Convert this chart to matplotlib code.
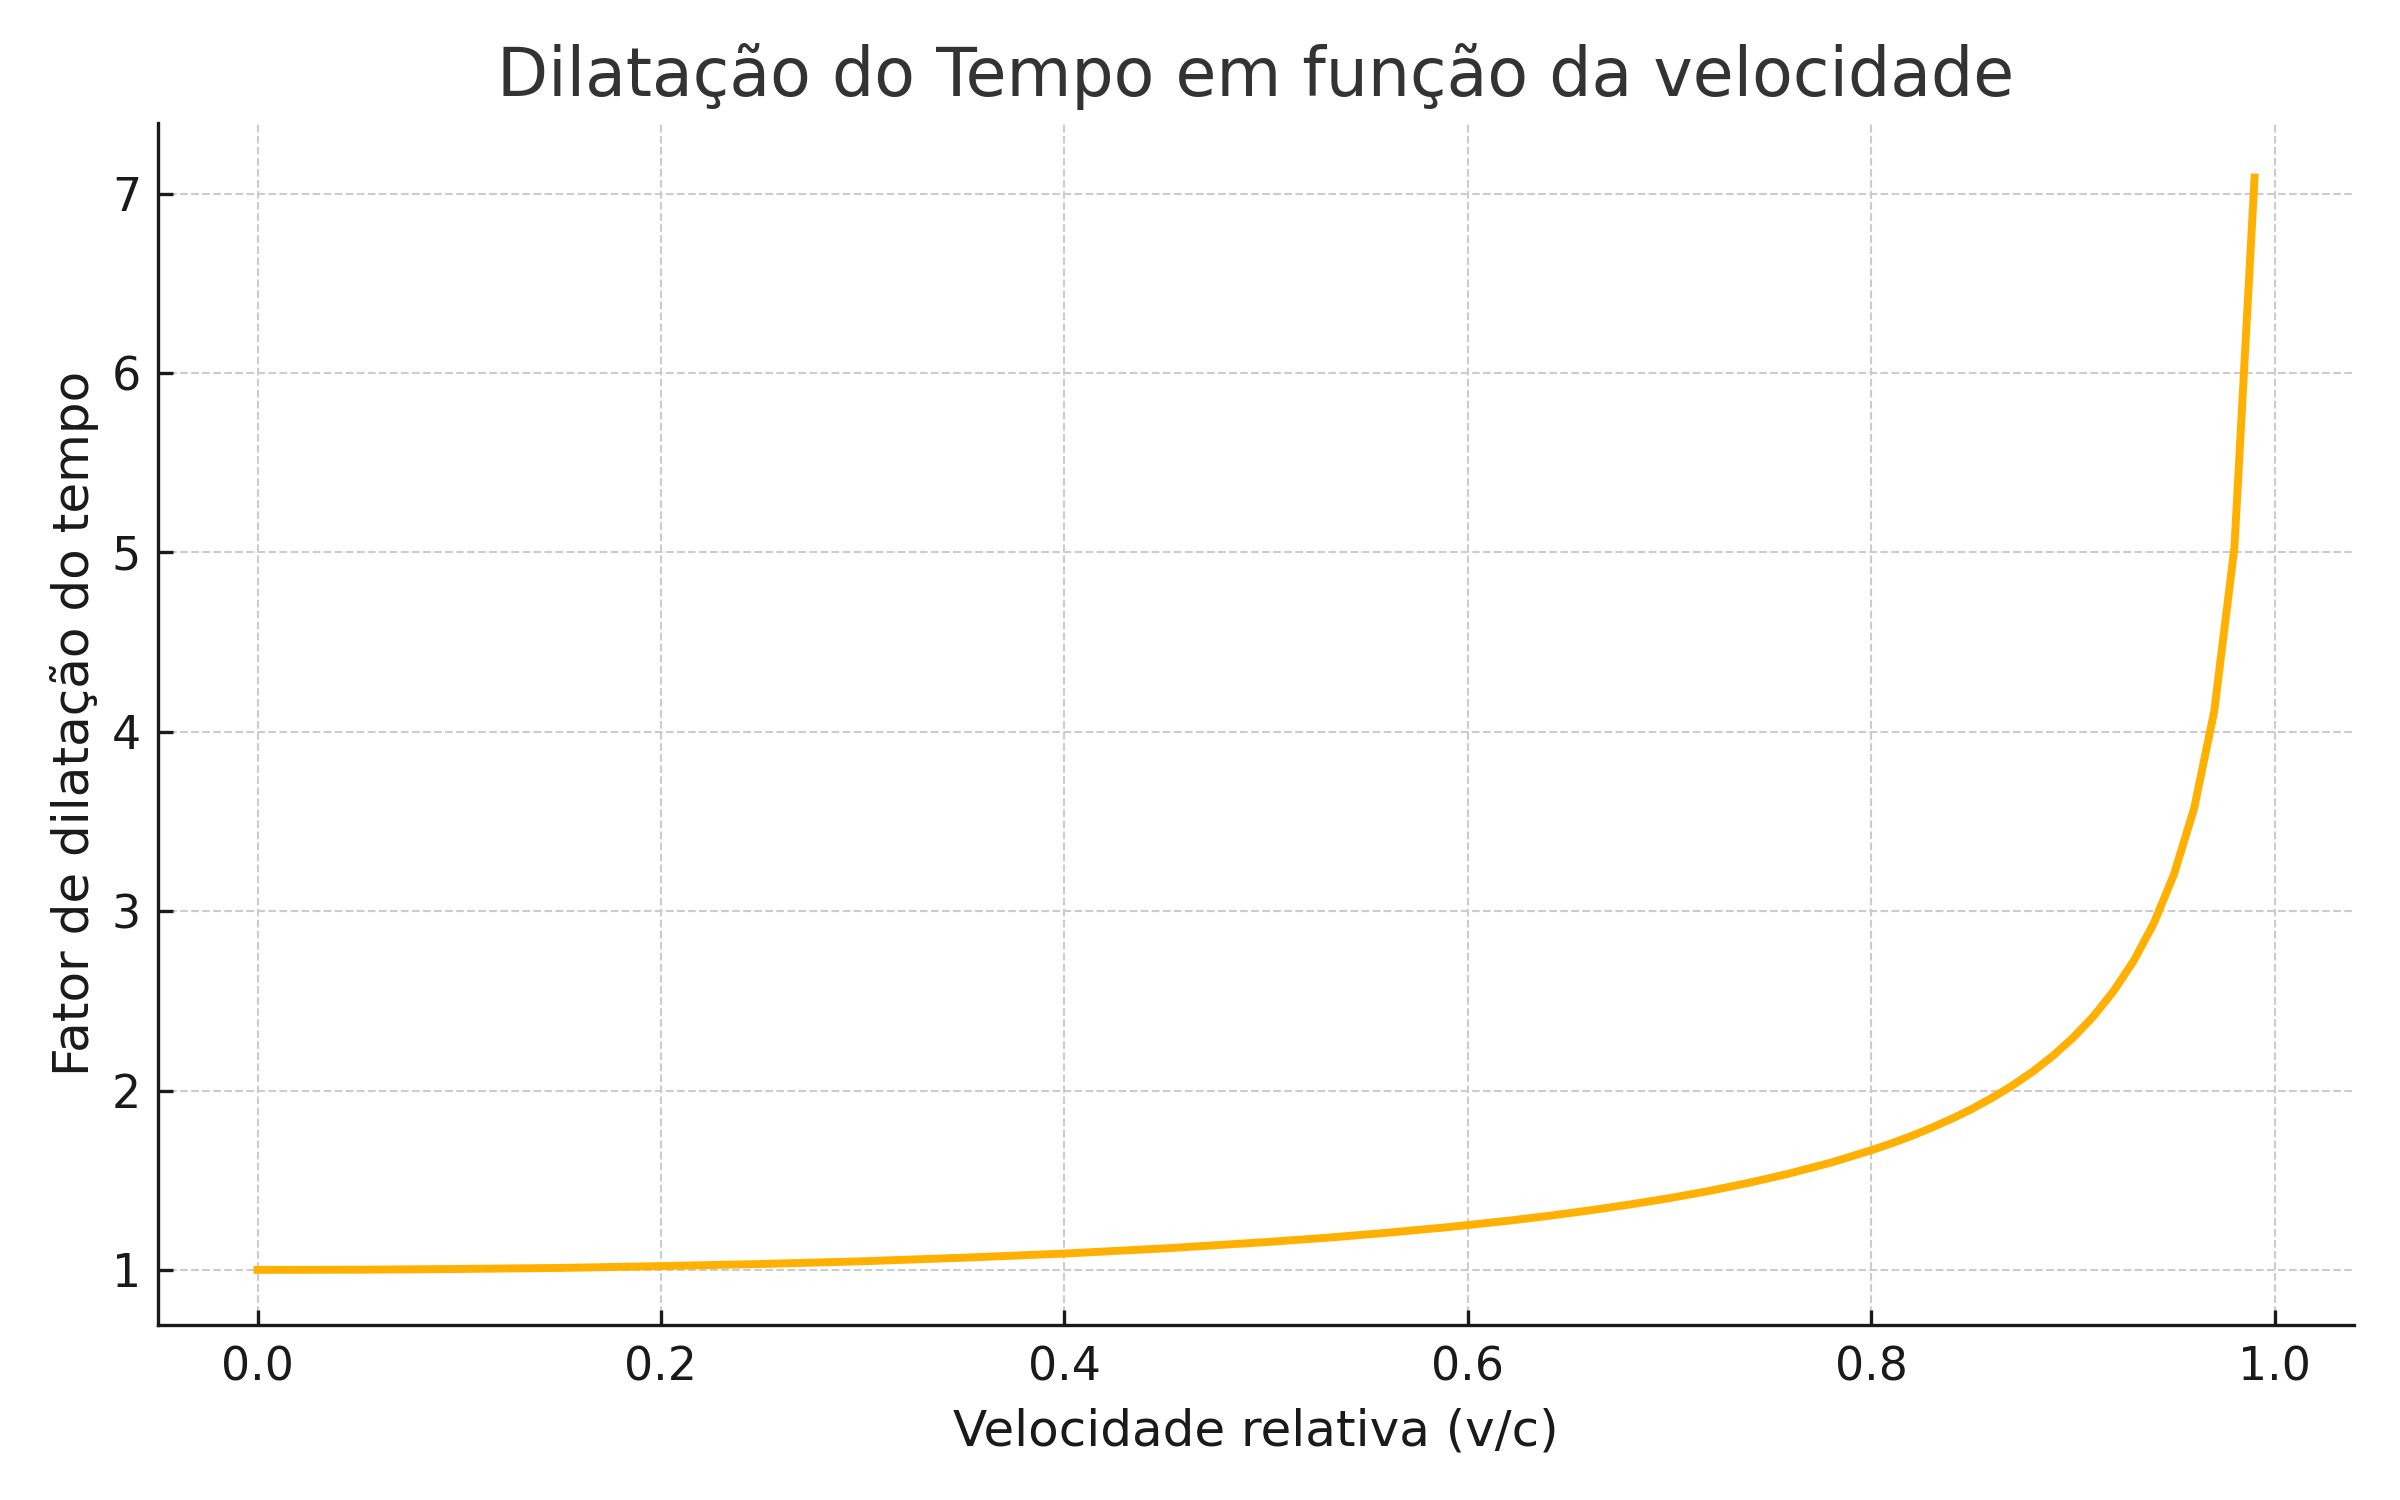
#!/usr/bin/env python3
"""Time dilation factor vs relative speed."""

import matplotlib

matplotlib.use("Agg")
import matplotlib.pyplot as plt

# relative speed (v/c) and the dilation factor
velocity = [
    0.00, 0.05, 0.10, 0.15, 0.20, 0.25, 0.30, 0.35, 0.40, 0.45,
    0.50, 0.53, 0.56, 0.59, 0.62, 0.64, 0.66, 0.68, 0.70, 0.72,
    0.74, 0.76, 0.78, 0.80, 0.81, 0.82, 0.83,
    0.84, 0.85, 0.86, 0.87, 0.88, 0.89, 0.90, 0.91, 0.92, 0.93,
    0.94, 0.95, 0.96, 0.97, 0.98, 0.99,
]
dilation = [
    1.000, 1.001, 1.005, 1.011, 1.021, 1.033, 1.048, 1.068, 1.091, 1.120,
    1.155, 1.179, 1.207, 1.238, 1.274, 1.301, 1.331, 1.364, 1.400, 1.441,
    1.487, 1.539, 1.598, 1.667, 1.705, 1.747, 1.793,
    1.843, 1.898, 1.960, 2.028, 2.105, 2.193, 2.294, 2.412, 2.552, 2.721,
    2.931, 3.203, 3.571, 4.113, 5.025, 7.089,
]

TITLE = "Dilatação do Tempo em função da velocidade"
XLABEL = "Velocidade relativa (v/c)"
YLABEL = "Fator de dilatação do tempo"


def main() -> None:
    plt.rcParams["font.family"] = ["DejaVu Sans"]
    fig, ax = plt.subplots(figsize=(16, 10), dpi=150)
    fig.subplots_adjust(left=0.0657, right=0.981, bottom=0.117, top=0.918)

    ax.plot(velocity, dilation, color="#FFB000", linewidth=3.8, zorder=3)

    ax.set_title(TITLE, fontsize=32, color="#333333", pad=13)
    ax.set_xlabel(XLABEL, fontsize=24, color="#1a1a1a", labelpad=8)
    ax.set_ylabel(YLABEL, fontsize=24, color="#1a1a1a", labelpad=6)

    ax.grid(True, linestyle="--", color="#cccccc", linewidth=1.0)
    ax.set_axisbelow(True)
    for side in ("top", "right"):
        ax.spines[side].set_visible(False)
    for side in ("left", "bottom"):
        ax.spines[side].set_linewidth(1.6)
        ax.spines[side].set_color("#1a1a1a")
    ax.tick_params(direction="in", length=7, width=1.6, labelsize=22,
                   colors="#1a1a1a", pad=10)
    ax.tick_params(axis="y", pad=8)

    fig.savefig("out.png", dpi=150)
    plt.close(fig)


if __name__ == "__main__":
    main()
